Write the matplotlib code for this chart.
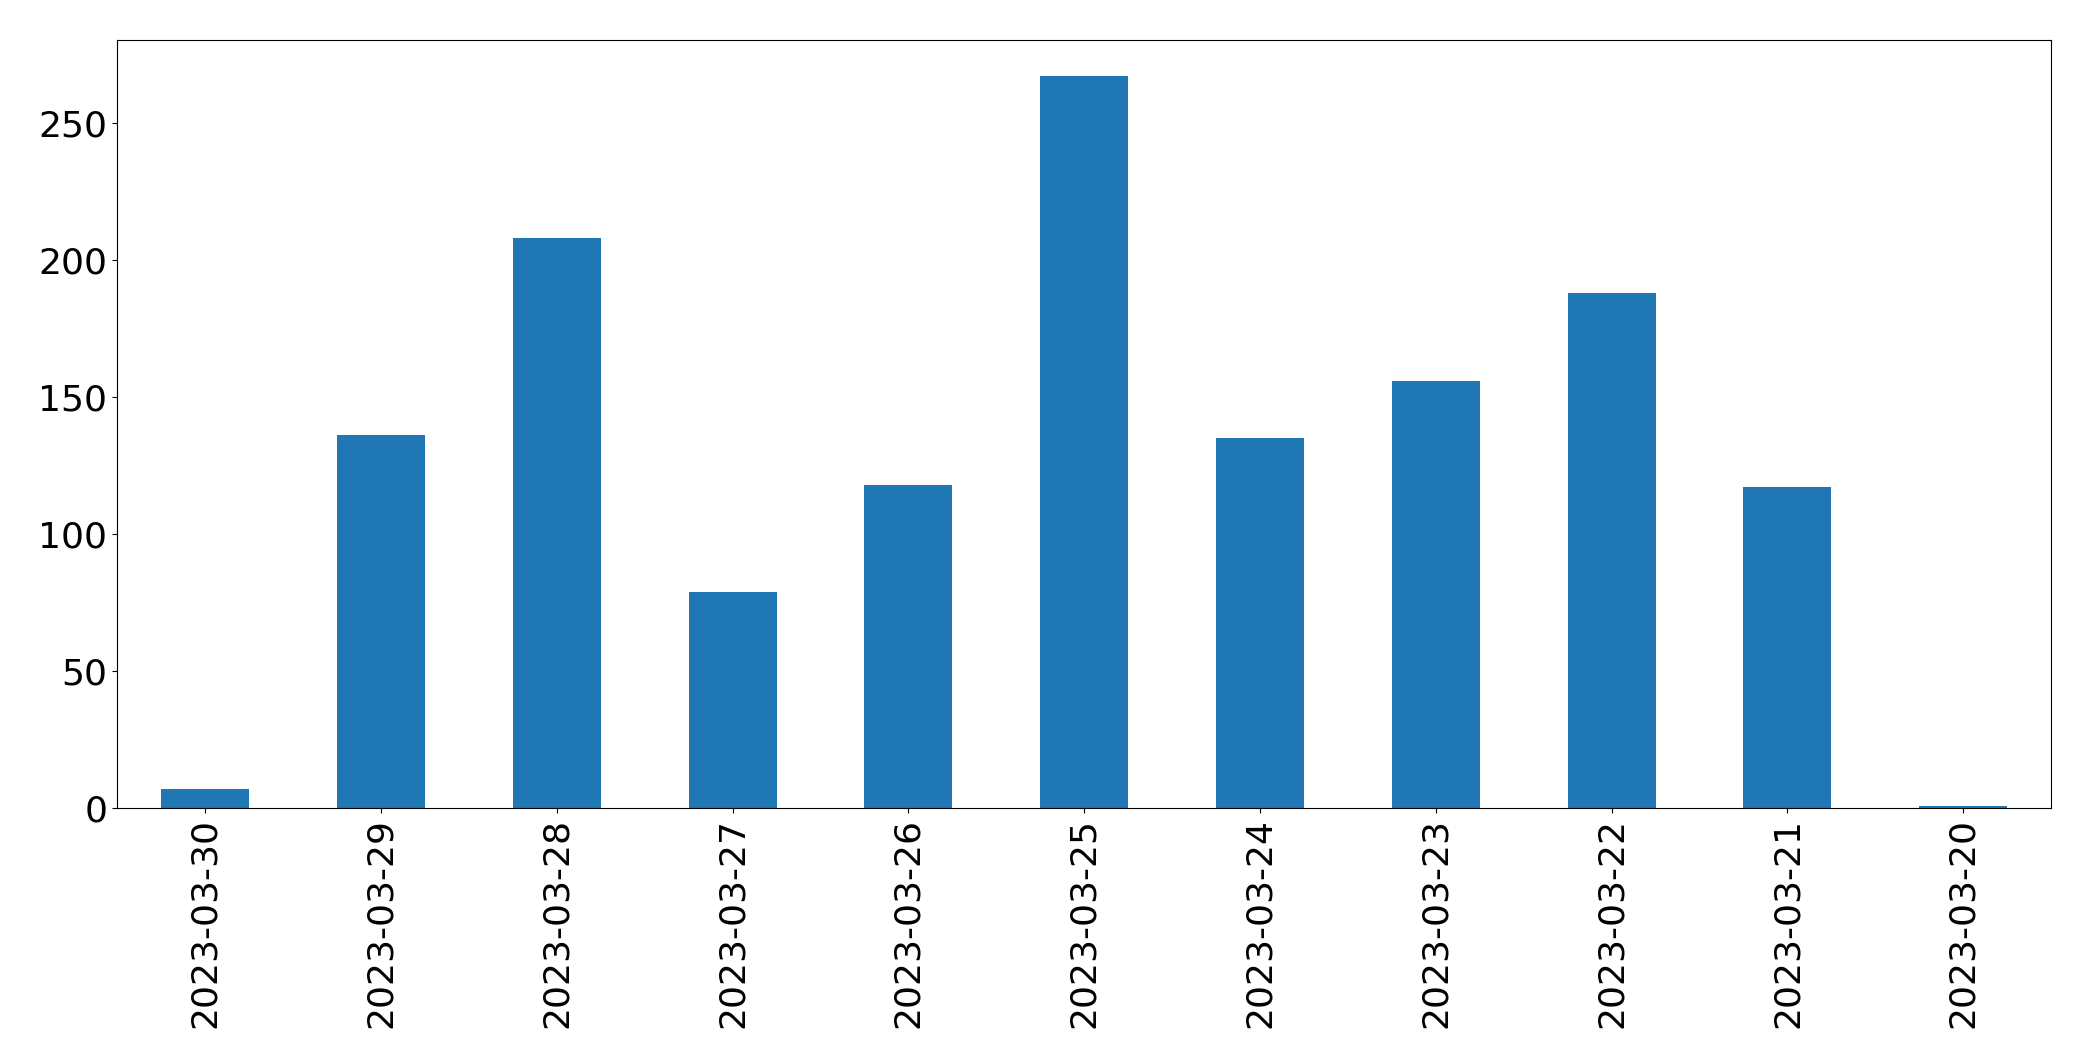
import matplotlib
matplotlib.use("Agg")
import matplotlib.pyplot as plt
import numpy as np

dates = ["2023-03-30", "2023-03-29", "2023-03-28", "2023-03-27", "2023-03-26",
         "2023-03-25", "2023-03-24", "2023-03-23", "2023-03-22", "2023-03-21",
         "2023-03-20"]
counts = [7, 136, 208, 79, 118, 267, 135, 156, 188, 117, 1]

fig, ax = plt.subplots(figsize=(20.93, 10.61), dpi=100)
x = np.arange(len(dates))
ax.bar(x, counts, width=0.5, color="#1f77b4")
ax.set_xticks(x)
ax.set_xticklabels(dates, rotation=90)
ax.set_xlim(-0.5, len(dates) - 0.5)
ax.set_ylim(0, 280)
ax.tick_params(labelsize=26)
plt.subplots_adjust(left=0.056, right=0.98, top=0.962, bottom=0.238)
fig.savefig("out.png")
